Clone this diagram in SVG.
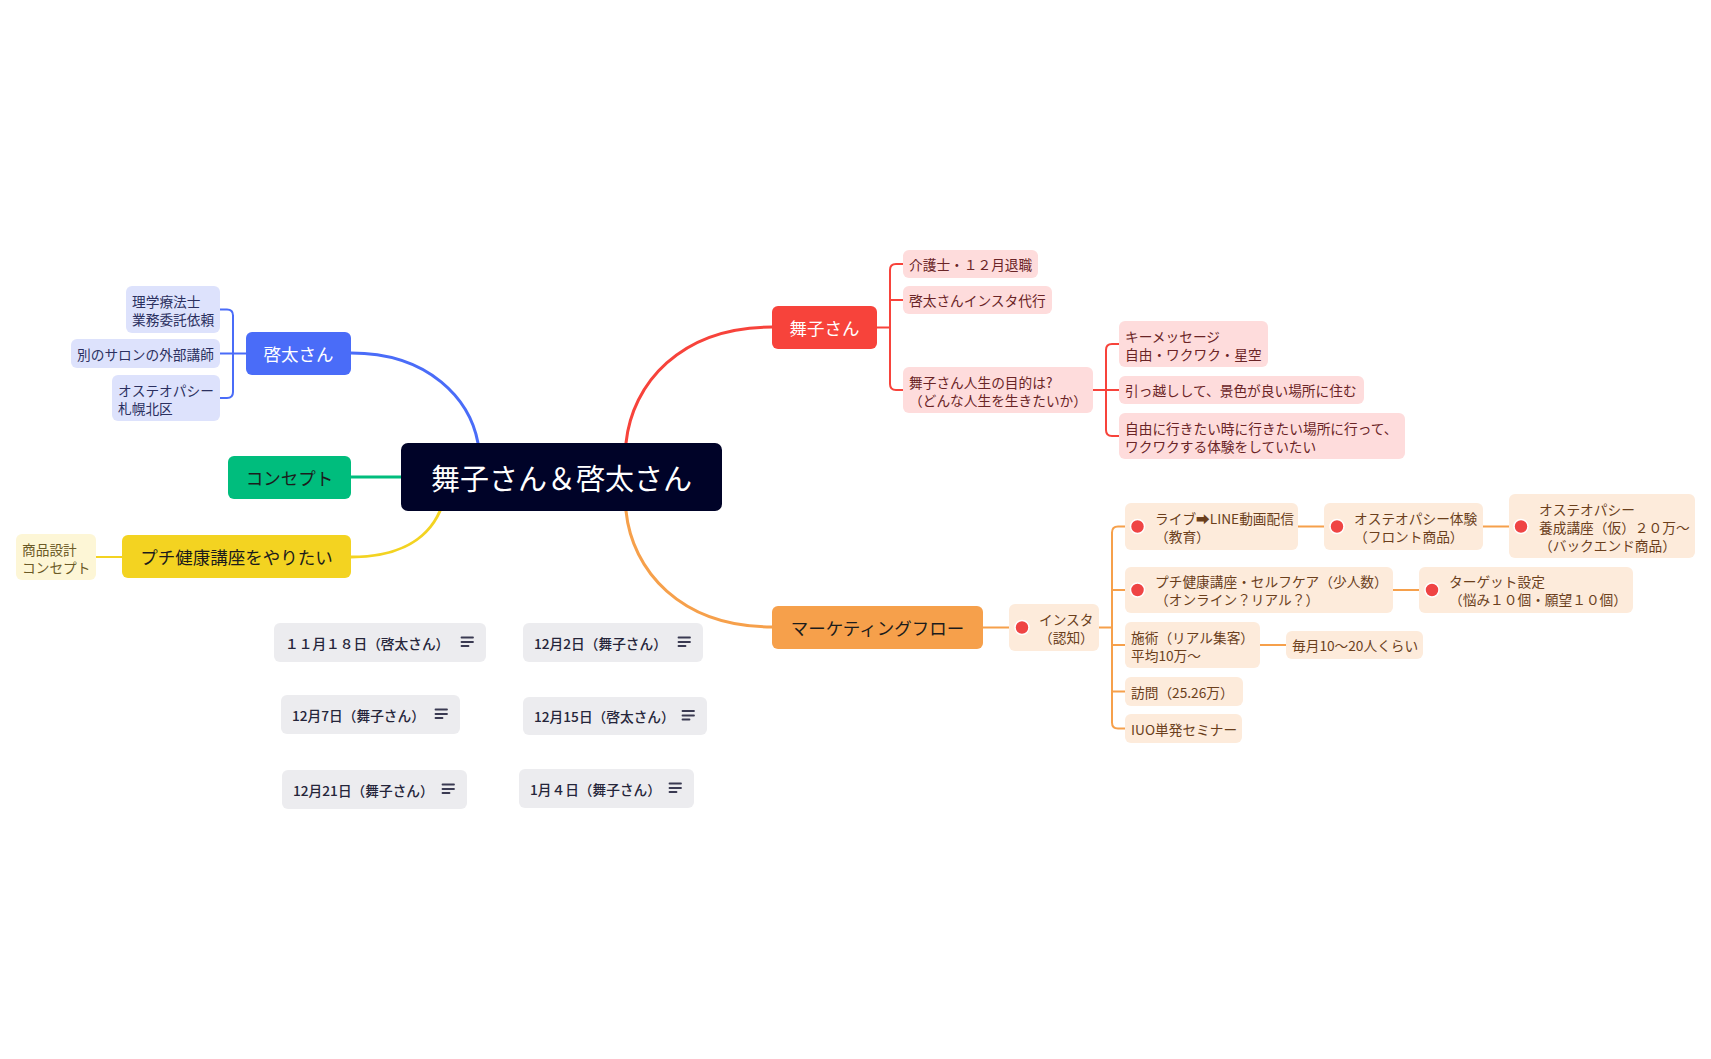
<svg xmlns="http://www.w3.org/2000/svg" width="1711" height="1059" viewBox="0 0 1711 1059">
<style>
text{font-family:"Noto Sans CJK JP","Noto Sans",sans-serif;dominant-baseline:central}
.root{font-size:29px;fill:#ffffff;text-anchor:middle}
.l1{font-size:17.5px;text-anchor:middle}
.l2{font-size:13.7px}
.w{fill:#ffffff}
.dk{fill:#1c1c1c}
.tb{fill:#2b3060}
.tr{fill:#6a2426}
.to{fill:#6b3f1c}
.ty{fill:#6b5a26}
.td{font-size:13.7px;fill:#25253a;font-weight:500}
.bb{fill:#dde2fc}
.br{fill:#fedcdc}
.bo{fill:#fdebdb}
.by{fill:#fdf6d6}
.bd{fill:#ececef}
.dot{fill:#ef4444;stroke:#ffffff;stroke-width:1.5}
.c{fill:none;stroke-linecap:round;stroke-linejoin:round}
.ic{stroke:#3a3a52;stroke-width:1.8;stroke-linecap:round}
</style>
<rect width="1711" height="1059" fill="#ffffff"/>
<g id="connectors" class="c">
  <path d="M478,443 C470,400 430,353 351,353" stroke="#4a6cf8" stroke-width="3"/>
  <path d="M351,477 H401" stroke="#00bd7d" stroke-width="3"/>
  <path d="M440,511 C425,545 390,557 351,557" stroke="#f3d321" stroke-width="3"/>
  <path d="M626,443 C632,384 680,327 772,327" stroke="#f7433b" stroke-width="3"/>
  <path d="M626,511 C632,570 680,627 772,627" stroke="#f6a04b" stroke-width="3"/>
  <path d="M246,353.5 H220 M220,309.5 H227 Q233,309.5 233,315.5 V392 Q233,398 227,398 H220" stroke="#4a6cf8" stroke-width="2"/>
  <path d="M96,557 H122" stroke="#f3d321" stroke-width="2"/>
  <path d="M877,327.5 H890 M903,264 H896 Q890,264 890,270 V384 Q890,390 896,390 H903 M890,300 H903" stroke="#f7433b" stroke-width="2"/>
  <path d="M1093,390 H1119 M1119,344 H1112 Q1106,344 1106,350 V430 Q1106,436 1112,436 H1119" stroke="#f7433b" stroke-width="2"/>
  <path d="M983,627.5 H1009" stroke="#f6a04b" stroke-width="2"/>
  <path d="M1099,627.5 H1112 M1125,526.5 H1118 Q1112,526.5 1112,532.5 V722.5 Q1112,728.5 1118,728.5 H1125 M1112,590 H1125 M1112,645 H1125 M1112,691.5 H1125" stroke="#f6a04b" stroke-width="2"/>
  <path d="M1298,526.5 H1324 M1483,526.5 H1509 M1393,590 H1419 M1260,645 H1286" stroke="#f6a04b" stroke-width="2"/>
</g>
<g id="root">
  <rect x="401" y="443" width="321" height="68" rx="7" fill="#000328"/>
  <text class="root" x="561.5" y="477">舞子さん＆啓太さん</text>
</g>
<g id="keita">
  <rect x="246" y="332" width="105" height="43" rx="6" fill="#4a6cf8"/>
  <text class="l1 w" x="298.5" y="353.5">啓太さん</text>
</g>
<g id="keita-1">
  <rect class="bb" x="126" y="286" width="94" height="47" rx="6"/>
  <text class="l2 tb" x="132" y="300.5">理学療法士</text>
  <text class="l2 tb" x="132" y="318.5">業務委託依頼</text>
</g>
<g id="keita-2">
  <rect class="bb" x="71" y="339" width="149" height="29" rx="6"/>
  <text class="l2 tb" x="77" y="353.5">別のサロンの外部講師</text>
</g>
<g id="keita-3">
  <rect class="bb" x="112" y="375" width="108" height="46" rx="6"/>
  <text class="l2 tb" x="118" y="389.5">オステオパシー</text>
  <text class="l2 tb" x="118" y="407.5">札幌北区</text>
</g>
<g id="concept">
  <rect x="228" y="456" width="123" height="43" rx="6" fill="#00bd7d"/>
  <text class="l1 dk" x="289.5" y="477.5">コンセプト</text>
</g>
<g id="petit">
  <rect x="122" y="535" width="229" height="43" rx="6" fill="#f3d321"/>
  <text class="l1 dk" x="236.5" y="556.5">プチ健康講座をやりたい</text>
</g>
<g id="petit-1">
  <rect class="by" x="16" y="534" width="80" height="46" rx="6"/>
  <text class="l2 ty" x="22" y="548.5">商品設計</text>
  <text class="l2 ty" x="22" y="566.5">コンセプト</text>
</g>
<g id="maiko">
  <rect x="772" y="306" width="105" height="43" rx="6" fill="#f7433b"/>
  <text class="l1 w" x="824.5" y="327.5">舞子さん</text>
</g>
<g id="maiko-1">
  <rect class="br" x="903" y="250" width="135" height="28" rx="6"/>
  <text class="l2 tr" x="909" y="264">介護士・１２月退職</text>
</g>
<g id="maiko-2">
  <rect class="br" x="903" y="286" width="149" height="28" rx="6"/>
  <text class="l2 tr" x="909" y="300">啓太さんインスタ代行</text>
</g>
<g id="maiko-3">
  <rect class="br" x="903" y="367" width="190" height="46" rx="6"/>
  <text class="l2 tr" x="909" y="381.5">舞子さん人生の目的は?</text>
  <text class="l2 tr" x="909" y="399.5">（どんな人生を生きたいか）</text>
</g>
<g id="maiko-3-1">
  <rect class="br" x="1119" y="321" width="149" height="46" rx="6"/>
  <text class="l2 tr" x="1125" y="335.5">キーメッセージ</text>
  <text class="l2 tr" x="1125" y="353.5">自由・ワクワク・星空</text>
</g>
<g id="maiko-3-2">
  <rect class="br" x="1119" y="376" width="245" height="28" rx="6"/>
  <text class="l2 tr" x="1125" y="390">引っ越しして、景色が良い場所に住む</text>
</g>
<g id="maiko-3-3">
  <rect class="br" x="1119" y="413" width="286" height="46" rx="6"/>
  <text class="l2 tr" x="1125" y="427.5">自由に行きたい時に行きたい場所に行って、</text>
  <text class="l2 tr" x="1125" y="445.5">ワクワクする体験をしていたい</text>
</g>
<g id="marketing">
  <rect x="772" y="606" width="211" height="43" rx="6" fill="#f6a04b"/>
  <text class="l1 dk" x="877.5" y="627.5">マーケティングフロー</text>
</g>
<g id="insta">
  <rect class="bo" x="1009" y="604" width="90" height="47" rx="6"/>
  <circle class="dot" cx="1022" cy="627.5" r="7"/>
  <text class="l2 to" x="1039" y="618.5">インスタ</text>
  <text class="l2 to" x="1039" y="636.5">（認知）</text>
</g>
<g id="live">
  <rect class="bo" x="1125" y="503" width="173" height="47" rx="6"/>
  <circle class="dot" cx="1137.5" cy="526.5" r="7"/>
  <text class="l2 to" x="1155" y="517.5">ライブ➡LINE動画配信</text>
  <text class="l2 to" x="1155" y="535.5">（教育）</text>
</g>
<g id="taiken">
  <rect class="bo" x="1324" y="503" width="159" height="47" rx="6"/>
  <circle class="dot" cx="1337" cy="526.5" r="7"/>
  <text class="l2 to" x="1354" y="517.5">オステオパシー体験</text>
  <text class="l2 to" x="1354" y="535.5">（フロント商品）</text>
</g>
<g id="yosei">
  <rect class="bo" x="1509" y="494" width="186" height="64" rx="6"/>
  <circle class="dot" cx="1521" cy="526.5" r="7"/>
  <text class="l2 to" x="1539" y="508.5">オステオパシー</text>
  <text class="l2 to" x="1539" y="526.5">養成講座（仮）２０万～</text>
  <text class="l2 to" x="1539" y="544.5">（バックエンド商品）</text>
</g>
<g id="selfcare">
  <rect class="bo" x="1125" y="567" width="268" height="46" rx="6"/>
  <circle class="dot" cx="1137.5" cy="590" r="7"/>
  <text class="l2 to" x="1155" y="581">プチ健康講座・セルフケア（少人数）</text>
  <text class="l2 to" x="1155" y="599">（オンライン？リアル？）</text>
</g>
<g id="target">
  <rect class="bo" x="1419" y="567" width="214" height="46" rx="6"/>
  <circle class="dot" cx="1432" cy="590" r="7"/>
  <text class="l2 to" x="1449" y="581">ターゲット設定</text>
  <text class="l2 to" x="1449" y="599">（悩み１０個・願望１０個）</text>
</g>
<g id="sejutsu">
  <rect class="bo" x="1125" y="622" width="135" height="46" rx="6"/>
  <text class="l2 to" x="1131" y="636.5">施術（リアル集客）</text>
  <text class="l2 to" x="1131" y="654.5">平均10万～</text>
</g>
<g id="maitsuki">
  <rect class="bo" x="1286" y="631" width="137" height="28" rx="6"/>
  <text class="l2 to" x="1292" y="645">毎月10～20人くらい</text>
</g>
<g id="houmon">
  <rect class="bo" x="1125" y="677" width="118" height="29" rx="6"/>
  <text class="l2 to" x="1131" y="691.5">訪問（25.26万）</text>
</g>
<g id="iuo">
  <rect class="bo" x="1125" y="714" width="117" height="29" rx="6"/>
  <text class="l2 to" x="1131" y="728.5">IUO単発セミナー</text>
</g>
<g id="date-1118">
  <rect class="bd" x="274" y="623" width="212" height="39" rx="6"/>
  <text class="td" x="285" y="642.5">１１月１８日（啓太さん）</text>
  <path class="ic" d="M461.5,637.5 H473 M461.5,642 H473 M461.5,646 H468.5"/>
</g>
<g id="date-1202">
  <rect class="bd" x="523" y="623" width="180" height="39" rx="6"/>
  <text class="td" x="534" y="642.5">12月2日（舞子さん）</text>
  <path class="ic" d="M678.5,637.5 H690 M678.5,642 H690 M678.5,646 H685.5"/>
</g>
<g id="date-1207">
  <rect class="bd" x="281" y="695" width="179" height="39" rx="6"/>
  <text class="td" x="292" y="714.5">12月7日（舞子さん）</text>
  <path class="ic" d="M435.5,709.5 H447 M435.5,714 H447 M435.5,718 H442.5"/>
</g>
<g id="date-1215">
  <rect class="bd" x="523" y="697" width="184" height="38" rx="6"/>
  <text class="td" x="534" y="716">12月15日（啓太さん）</text>
  <path class="ic" d="M682.5,711 H694 M682.5,715.5 H694 M682.5,719.5 H689.5"/>
</g>
<g id="date-1221">
  <rect class="bd" x="282" y="770" width="185" height="39" rx="6"/>
  <text class="td" x="293" y="789.5">12月21日（舞子さん）</text>
  <path class="ic" d="M442.5,784.5 H454 M442.5,789 H454 M442.5,793 H449.5"/>
</g>
<g id="date-0104">
  <rect class="bd" x="519" y="769" width="175" height="39" rx="6"/>
  <text class="td" x="530" y="788.5">1月４日（舞子さん）</text>
  <path class="ic" d="M669.5,783.5 H681 M669.5,788 H681 M669.5,792 H676.5"/>
</g>
</svg>
